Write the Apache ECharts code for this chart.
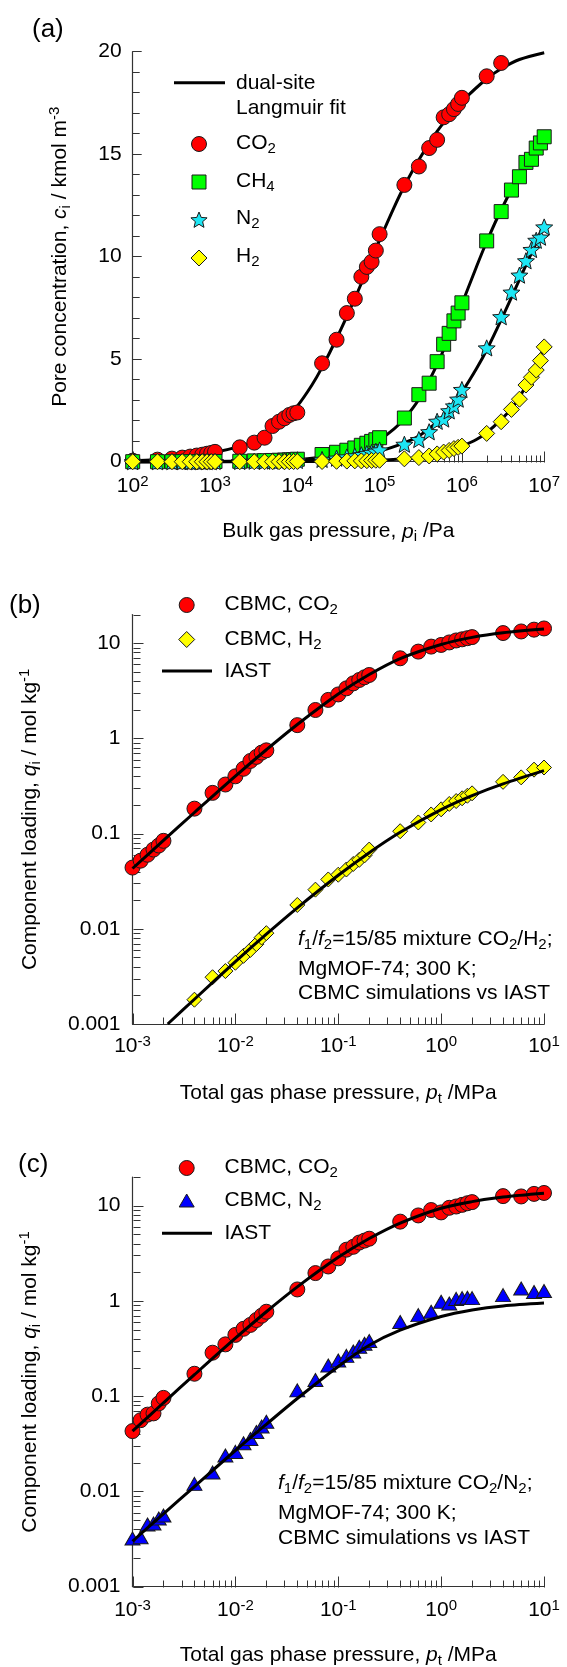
<!DOCTYPE html>
<html>
<head>
<meta charset="utf-8">
<script src="https://cdn.jsdelivr.net/npm/echarts@6/dist/echarts.min.js"></script>
<style>
  html, body { margin: 0; padding: 0; background: #fff; }
  #chart { width: 567px; height: 1667px; }
</style>
</head>
<body>
<div id="chart"></div>
<script>
// ---------- (a) pure-component isotherms, MgMOF-74 ----------
const P_A = [
  1e2, 2e2, 3e2, 4e2, 5e2, 6e2, 7e2, 8e2, 9e2,
  1e3, 2e3, 3e3, 4e3, 5e3, 6e3, 7e3, 8e3, 9e3,
  1e4, 2e4, 3e4, 4e4, 5e4, 6e4, 7e4, 8e4, 9e4,
  1e5, 2e5, 3e5, 4e5, 5e5, 6e5, 7e5, 8e5, 9e5,
  1e6, 2e6, 3e6, 4e6, 5e6, 6e6, 7e6, 8e6, 9e6,
  1e7
];
const CO2_A = [
  0.05, 0.10, 0.15, 0.20, 0.25, 0.30, 0.34, 0.39, 0.43,
  0.48, 0.70, 0.93, 1.17, 1.74, 1.95, 2.12, 2.28, 2.36,
  2.40, 4.80, 5.95, 7.25, 7.95, 9.02, 9.50, 9.75, 10.3,
  11.1, 13.5, 14.4, 15.3, 15.7, 16.8, 16.95, 17.2, 17.45,
  17.75, 18.8, 19.45
];
const CH4_A = [
  0, 0, 0, 0, 0, 0, 0, 0, 0.01,
  0.01, 0.02, 0.04, 0.05, 0.06, 0.07, 0.08, 0.09, 0.10,
  0.12, 0.35, 0.46, 0.56, 0.67, 0.80, 0.90, 0.99, 1.07,
  1.17, 2.13, 3.27, 3.83, 4.88, 5.73, 6.26, 6.87, 7.25,
  7.75, 10.77, 12.2, 13.25, 13.9, 14.6, 14.75, 15.3, 15.55,
  15.85
];
const N2_A = [
  0, 0, 0, 0, 0, 0, 0, 0, 0,
  0.01, 0.01, 0.02, 0.02, 0.03, 0.03, 0.04, 0.05, 0.05,
  0.06, 0.11, 0.17, 0.23, 0.28, 0.34, 0.40, 0.45, 0.51,
  0.57, 0.85, 1.08, 1.46, 1.97, 2.08, 2.48, 2.72, 3.05,
  3.52, 5.55, 7.07, 8.27, 9.10, 9.80, 10.35, 10.8, 10.95,
  11.45
];
const H2_A = [
  0, 0, 0, 0, 0, 0, 0, 0, 0,
  0, 0, 0, 0, 0, 0, 0, 0, 0.01,
  0.01, 0.01, 0.02, 0.03, 0.04, 0.04, 0.05, 0.06, 0.07,
  0.07, 0.14, 0.20, 0.28, 0.38, 0.47, 0.55, 0.64, 0.70,
  0.76, 1.38, 1.95, 2.55, 3.05, 3.74, 4.12, 4.47, 4.93,
  5.60
];
// dual-site Langmuir fit curves, [p / Pa, c / kmol m^-3]
const FIT_CO2_A = [[1e2,0.05],[3e2,0.14],[1e3,0.46],[2e3,0.746],[3e3,1.01],[5e3,1.54],[7e3,2.04],[1e4,2.71],[1.5e4,3.73],[2e4,4.60],[3e4,6.01],[5e4,7.96],[7e4,9.34],[1e5,10.81],[1.5e5,12.41],[2e5,13.45],[3e5,14.73],[5e5,16.11],[7e5,16.87],[1e6,17.57],[2e6,18.68],[3e6,19.17],[5e6,19.62],[1e7,19.95]];
const FIT_CH4_A = [[1e2,0],[1e3,0.011],[1e4,0.11],[2e4,0.22],[3e4,0.33],[5e4,0.55],[7e4,0.76],[1e5,1.07],[1.5e5,1.6],[2e5,2.1],[3e5,3.05],[5e5,4.74],[7e5,6.11],[1e6,7.69],[1.5e6,9.50],[2e6,10.73],[3e6,12.29],[5e6,14.0],[7e6,14.97],[1e7,15.84]];
const FIT_N2_A = [[1e2,0],[1e3,0.006],[1e4,0.055],[3e4,0.17],[5e4,0.29],[1e5,0.52],[2e5,0.92],[3e5,1.25],[5e5,1.94],[7e5,2.55],[1e6,3.39],[1.5e6,4.53],[2e6,5.45],[3e6,6.92],[5e6,8.88],[7e6,10.18],[1e7,11.54]];
const FIT_H2_A = [[1e2,0],[1e4,0.007],[1e5,0.07],[2e5,0.14],[3e5,0.21],[5e5,0.36],[7e5,0.52],[1e6,0.75],[1.5e6,1.08],[2e6,1.42],[3e6,2.05],[4e6,2.6],[5e6,3.15],[7e6,4.2],[1e7,5.6]];

// ---------- (b), (c) binary mixtures, total pressure in MPa ----------
const P_BC = [
  0.001, 0.0012, 0.0014, 0.0016, 0.0018, 0.002, 0.004, 0.006, 0.008,
  0.01, 0.012, 0.014, 0.016, 0.018, 0.02, 0.04, 0.06, 0.08,
  0.1, 0.12, 0.14, 0.16, 0.18, 0.2, 0.4, 0.6, 0.8,
  1, 1.2, 1.4, 1.6, 1.8, 2, 4, 6, 8,
  10
];
const CO2_B = [
  0.044, 0.052, 0.060, 0.068, 0.075, 0.084, 0.183, 0.268, 0.328,
  0.40, 0.48, 0.58, 0.64, 0.71, 0.75, 1.38, 1.99, 2.54,
  2.9, 3.36, 3.79, 4.11, 4.39, 4.64, 6.95, 8.17, 9.22,
  9.6, 10.2, 10.7, 11.0, 11.3, 11.6, 12.8, 13.3, 13.9,
  14.3
];
const H2_B = [
  null, null, null, null, null, null, 0.0018, 0.0031, 0.0036,
  0.0044, 0.0052, 0.0060, 0.0069, 0.0081, 0.0090, 0.0178, 0.0258, 0.033,
  0.037, 0.042, 0.048, 0.053, 0.059, 0.068, 0.106, 0.131, 0.159,
  0.18, 0.205, 0.22, 0.235, 0.25, 0.265, 0.35, 0.39, 0.47,
  0.495
];
const IAST_CO2_B = [[0.001,0.043],[0.002,0.085],[0.004,0.1667],[0.01,0.402],[0.02,0.761],[0.04,1.403],[0.1,2.93],[0.2,4.69],[0.4,6.90],[1,9.70],[2,11.53],[4,12.88],[10,14.1]];
const IAST_H2_B = [[0.0022,0.001],[0.004,0.00182],[0.01,0.00451],[0.02,0.00877],[0.04,0.0166],[0.1,0.0365],[0.2,0.0631],[0.4,0.1033],[1,0.179],[2,0.251],[4,0.333],[10,0.459]];

const CO2_C = [
  0.043, 0.056, 0.064, 0.066, 0.084, 0.096, 0.172, 0.286, 0.35,
  0.44, 0.51, 0.56, 0.63, 0.70, 0.77, 1.32, 1.96, 2.3,
  2.8, 3.45, 3.7, 4.1, 4.3, 4.5, 6.8, 7.9, 9.0,
  8.5, 9.5, 9.8, 10.2, 10.6, 10.9, 12.6, 12.5, 13.3,
  13.6
];
const N2_C = [
  0.0032, 0.0033, 0.0045, 0.0046, 0.0052, 0.0056, 0.012, 0.0158, 0.0238,
  0.026, 0.032, 0.0355, 0.042, 0.048, 0.054, 0.115, 0.148, 0.21,
  0.237, 0.265, 0.295, 0.33, 0.355, 0.38, 0.6, 0.71, 0.77,
  0.98, 0.94, 1.05, 1.07, 1.08, 1.07, 1.15, 1.35, 1.24,
  1.27
];
const IAST_CO2_C = [[0.001,0.043],[0.002,0.0853],[0.004,0.168],[0.01,0.406],[0.02,0.770],[0.04,1.404],[0.1,2.87],[0.2,4.52],[0.4,6.57],[1,9.41],[2,11.03],[4,12.32],[10,13.5]];
const IAST_N2_C = [[0.001,0.0030],[0.002,0.00582],[0.004,0.01126],[0.01,0.0269],[0.02,0.0507],[0.04,0.0945],[0.1,0.205],[0.2,0.342],[0.4,0.493],[1,0.687],[2,0.805],[4,0.887],[10,0.951]];

// ---------- ticks ----------
const X_DECADES_A = [1e2, 1e3, 1e4, 1e5, 1e6, 1e7];
const X_DECADES_BC = [0.001, 0.01, 0.1, 1, 10];
const Y_DECADES_BC = [0.001, 0.01, 0.1, 1, 10];

function minorTicks(decades, top) {
  const out = [];
  decades.forEach(function (d) {
    for (let k = 2; k <= 9; k++) {
      const v = +(d * k).toPrecision(6);
      if (v <= top * 1.0000001) out.push(v);
    }
  });
  return out;
}

// ---------- styling ----------
const FONT = '"Liberation Sans", Arial, Helvetica, sans-serif';
const AXIS_COLOR = '#333';
const EDGE = '#1a1a1a';
const STAR = 'path://M50,0L62.93,32.2L97.55,34.55L70.92,56.8L79.39,90.45L50,72L20.61,90.45L29.08,56.8L2.45,34.55L37.07,32.2Z';

const RICH = {
  n:   { fontSize: 21, fontFamily: FONT, color: '#000', lineHeight: 26 },
  i:   { fontSize: 21, fontFamily: FONT, color: '#000', lineHeight: 26, fontStyle: 'italic' },
  sub: { fontSize: 15, fontFamily: FONT, color: '#000', lineHeight: 12, verticalAlign: 'bottom' },
  sup: { fontSize: 15, fontFamily: FONT, color: '#000', lineHeight: 12, verticalAlign: 'top' }
};
const TICK_RICH = {
  b: { fontSize: 21, fontFamily: FONT, color: '#000', lineHeight: 24 },
  s: { fontSize: 15, fontFamily: FONT, color: '#000', lineHeight: 12, verticalAlign: 'top' }
};

function isDecade(v) {
  const l = Math.log10(v);
  return Math.abs(l - Math.round(l)) < 1e-6;
}
function powLabel(v) {
  if (!isDecade(v)) return '';
  const e = Math.round(Math.log10(v));
  return '{b|10}{s|' + (e < 0 ? '-' : '') + Math.abs(e) + '}';
}
function decLabel(v) {
  if (!isDecade(v)) return '';
  const e = Math.round(Math.log10(v));
  return e < 0 ? v.toFixed(-e) : String(Math.round(v));
}

const GRID_A = { left: 132.7, top: 51.7, width: 411.5, height: 410 };
const GRID_B = { left: 132.5, top: 614.6, width: 411.5, height: 409.4 };
const GRID_C = { left: 132.5, top: 1177.0, width: 411.5, height: 409.7 };

function pairs(xs, ys) {
  const out = [];
  for (let i = 0; i < ys.length; i++) if (ys[i] != null) out.push([xs[i], ys[i]]);
  return out;
}

function logX(gridIndex, min, max, margin) {
  return {
    type: 'log', logBase: 10, gridIndex: gridIndex, min: min, max: max, position: 'bottom',
    axisLine: { show: true, onZero: false, lineStyle: { color: AXIS_COLOR, width: 1.2 } },
    axisTick: { show: false },
    splitLine: { show: false },
    axisLabel: { formatter: powLabel, margin: margin, rich: TICK_RICH, color: '#000' }
  };
}
function logY(gridIndex) {
  return {
    type: 'log', logBase: 10, gridIndex: gridIndex, min: 0.001, max: 20,
    axisLine: { show: true, onZero: false, lineStyle: { color: AXIS_COLOR, width: 1.2 } },
    axisTick: { show: false },
    splitLine: { show: false },
    axisLabel: { formatter: decLabel, margin: 12, fontSize: 21, fontFamily: FONT, color: '#000' }
  };
}

// tick marks drawn through the axes' own coordinate mapping
function tickSeries(xi, yi, data) {
  return {
    type: 'custom', xAxisIndex: xi, yAxisIndex: yi, silent: true, z: 1, clip: false,
    renderItem: function (params, api) {
      const p = api.coord([api.value(0), api.value(1)]);
      const len = api.value(3);
      const vertical = api.value(2) === 0;
      const x = Math.round(p[0]) + 0.5, y = Math.round(p[1]) + 0.5;
      return {
        type: 'line',
        shape: vertical ? { x1: x, y1: y, x2: x, y2: y - len } : { x1: x, y1: y, x2: x + len, y2: y },
        style: { stroke: AXIS_COLOR, lineWidth: 1 }
      };
    },
    data: data
  };
}
function xTickData(decades, top, yBase) {
  return decades.map(v => [v, yBase, 0, 11]).concat(minorTicks(decades, top).map(v => [v, yBase, 0, 7]));
}
function yTickData(decades, top, xBase) {
  return decades.map(v => [xBase, v, 1, 10]).concat(minorTicks(decades, top).map(v => [xBase, v, 1, 7]));
}

function fitLine(xi, yi, data, z) {
  return {
    type: 'line', xAxisIndex: xi, yAxisIndex: yi, data: data, symbol: 'none', showSymbol: false,
    smooth: 0.3, clip: false, z: z,
    lineStyle: { color: '#000', width: 3 }
  };
}
function points(xi, yi, data, symbol, size, color) {
  return {
    type: 'scatter', xAxisIndex: xi, yAxisIndex: yi, data: data, symbol: symbol, symbolSize: size,
    symbolKeepAspect: true, clip: false, z: 3,
    itemStyle: { color: color, borderColor: EDGE, borderWidth: 1, opacity: 1 }
  };
}

// ---------- free text and legend keys ----------
function txt(x, y, text, align, extra) {
  return Object.assign({
    type: 'text', x: x, y: y, silent: true,
    style: { text: text, rich: RICH, align: align || 'left', verticalAlign: 'middle', fontSize: 21, fontFamily: FONT, fill: '#000' }
  }, extra || {});
}
function label(x, y, t) {
  return { type: 'text', x: x, y: y, silent: true,
    style: { text: t, align: 'left', verticalAlign: 'middle', fontSize: 26, fontFamily: FONT, fill: '#000' } };
}
const keyStyle = (fill) => ({ fill: fill, stroke: EDGE, lineWidth: 1 });
function keyLine(x1, x2, y) {
  return { type: 'line', silent: true, shape: { x1: x1, y1: y, x2: x2, y2: y }, style: { stroke: '#000', lineWidth: 3 } };
}
function keyCircle(cx, cy, fill) {
  return { type: 'circle', silent: true, shape: { cx: cx, cy: cy, r: 7.5 }, style: keyStyle(fill) };
}
function keySquare(cx, cy, fill) {
  return { type: 'rect', silent: true, shape: { x: cx - 7, y: cy - 7, width: 14, height: 14 }, style: keyStyle(fill) };
}
function keyDiamond(cx, cy, fill) {
  return { type: 'polygon', silent: true, shape: { points: [[cx, cy - 8], [cx + 8, cy], [cx, cy + 8], [cx - 8, cy]] }, style: keyStyle(fill) };
}
function keyTriangle(cx, cy, fill) {
  return { type: 'polygon', silent: true, shape: { points: [[cx, cy - 6.5], [cx + 7.5, cy + 6.5], [cx - 7.5, cy + 6.5]] }, style: keyStyle(fill) };
}
function keyStar(cx, cy, fill) {
  const pts = [];
  for (let k = 0; k < 10; k++) {
    const r = k % 2 === 0 ? 8.5 : 3.8;
    const a = (-90 + k * 36) * Math.PI / 180;
    pts.push([cx + r * Math.cos(a), cy + 0.5 + r * Math.sin(a)]);
  }
  return { type: 'polygon', silent: true, shape: { points: pts }, style: keyStyle(fill) };
}

const RED = '#ff0000', GREEN = '#00ff00', CYAN = '#1de6f4', YELLOW = '#ffff00', BLUE = '#0000ff';

const graphics = [
  // (a)
  label(32, 30, '(a)'),
  keyLine(174, 225, 82.7),
  txt(236, 83, '{n|dual-site}'),
  txt(236, 108.5, '{n|Langmuir fit}'),
  keyCircle(199, 144, RED),    txt(236, 143.5, '{n|CO}{sub|2}'),
  keySquare(199, 182, GREEN),  txt(236, 181, '{n|CH}{sub|4}'),
  keyStar(199, 220, CYAN),     txt(236, 218.5, '{n|N}{sub|2}'),
  keyDiamond(199, 258, YELLOW), txt(236, 256, '{n|H}{sub|2}'),
  txt(338.4, 531.7, '{n|Bulk gas pressure, }{i|p}{sub|i}{n| /Pa}', 'center'),
  txt(60, 256.7, '{n|Pore concentration, }{i|c}{sub|i}{n| / kmol m}{sup|-3}', 'center', { rotation: Math.PI / 2 }),
  // (b)
  label(9, 606, '(b)'),
  keyCircle(186.7, 605, RED),       txt(224.5, 604, '{n|CBMC, CO}{sub|2}'),
  keyDiamond(186.7, 639.5, YELLOW), txt(224.5, 639, '{n|CBMC, H}{sub|2}'),
  keyLine(162, 212, 671),           txt(224.5, 671, '{n|IAST}'),
  txt(298, 939, '{i|f}{sub|1}{n|/}{i|f}{sub|2}{n|=15/85 mixture CO}{sub|2}{n|/H}{sub|2}{n|;}'),
  txt(298, 969, '{n|MgMOF-74; 300 K;}'),
  txt(298, 993.3, '{n|CBMC simulations vs IAST}'),
  txt(338.3, 1093.3, '{n|Total gas phase pressure, }{i|p}{sub|t}{n| /MPa}', 'center'),
  txt(30, 819.3, '{n|Component loading, }{i|q}{sub|i}{n| / mol kg}{sup|-1}', 'center', { rotation: Math.PI / 2 }),
  // (c)
  label(18, 1165, '(c)'),
  keyCircle(186.7, 1168, RED),      txt(224.5, 1167, '{n|CBMC, CO}{sub|2}'),
  keyTriangle(186.7, 1200.5, BLUE), txt(224.5, 1200, '{n|CBMC, N}{sub|2}'),
  keyLine(162, 212, 1233.3),        txt(224.5, 1233.3, '{n|IAST}'),
  txt(278, 1483.3, '{i|f}{sub|1}{n|/}{i|f}{sub|2}{n|=15/85 mixture CO}{sub|2}{n|/N}{sub|2}{n|;}'),
  txt(278, 1513.3, '{n|MgMOF-74; 300 K;}'),
  txt(278, 1538.3, '{n|CBMC simulations vs IAST}'),
  txt(338.3, 1655, '{n|Total gas phase pressure, }{i|p}{sub|t}{n| /MPa}', 'center'),
  txt(30, 1381.9, '{n|Component loading, }{i|q}{sub|i}{n| / mol kg}{sup|-1}', 'center', { rotation: Math.PI / 2 })
];

const option = {
  animation: false,
  backgroundColor: '#fff',
  grid: [GRID_A, GRID_B, GRID_C],
  xAxis: [
    logX(0, 1e2, 1e7, 13),
    logX(1, 0.001, 10, 10.7),
    logX(2, 0.001, 10, 11.3)
  ],
  yAxis: [
    {
      type: 'value', gridIndex: 0, min: 0, max: 20, interval: 5,
      axisLine: { show: true, onZero: false, lineStyle: { color: AXIS_COLOR, width: 1.2 } },
      axisTick: { show: true, inside: true, length: 9, lineStyle: { color: AXIS_COLOR, width: 1 } },
      minorTick: { show: true, splitNumber: 5, length: 7, lineStyle: { color: AXIS_COLOR, width: 1 } },
      splitLine: { show: false },
      axisLabel: { margin: 11, fontSize: 21, fontFamily: FONT, color: '#000' }
    },
    logY(1),
    logY(2)
  ],
  graphic: graphics,
  series: [
    // axis ticks on the logarithmic axes
    tickSeries(0, 0, xTickData(X_DECADES_A, 1e7, 0)),
    tickSeries(1, 1, xTickData(X_DECADES_BC, 10, 0.001)),
    tickSeries(1, 1, yTickData(Y_DECADES_BC, 20, 0.001)),
    tickSeries(2, 2, xTickData(X_DECADES_BC, 10, 0.001)),
    tickSeries(2, 2, yTickData(Y_DECADES_BC, 20, 0.001)),

    // (a)
    fitLine(0, 0, FIT_CO2_A, 2),
    fitLine(0, 0, FIT_CH4_A, 2),
    fitLine(0, 0, FIT_N2_A, 2),
    fitLine(0, 0, FIT_H2_A, 2),
    points(0, 0, pairs(P_A, CO2_A), 'circle', 15, RED),
    points(0, 0, pairs(P_A, CH4_A), 'rect', 14, GREEN),
    points(0, 0, pairs(P_A, N2_A), STAR, 17, CYAN),
    points(0, 0, pairs(P_A, H2_A), 'diamond', 16, YELLOW),

    // (b)
    points(1, 1, pairs(P_BC, CO2_B), 'circle', 15, RED),
    points(1, 1, pairs(P_BC, H2_B), 'diamond', 15, YELLOW),
    fitLine(1, 1, IAST_CO2_B, 4),
    fitLine(1, 1, IAST_H2_B, 4),

    // (c)
    points(2, 2, pairs(P_BC, CO2_C), 'circle', 15, RED),
    points(2, 2, pairs(P_BC, N2_C), 'triangle', [15, 13], BLUE),
    fitLine(2, 2, IAST_CO2_C, 4),
    fitLine(2, 2, IAST_N2_C, 4)
  ]
};

const chart = echarts.init(document.getElementById('chart'), null, { renderer: 'canvas', width: 567, height: 1667 });
chart.setOption(option);
</script>
</body>
</html>
